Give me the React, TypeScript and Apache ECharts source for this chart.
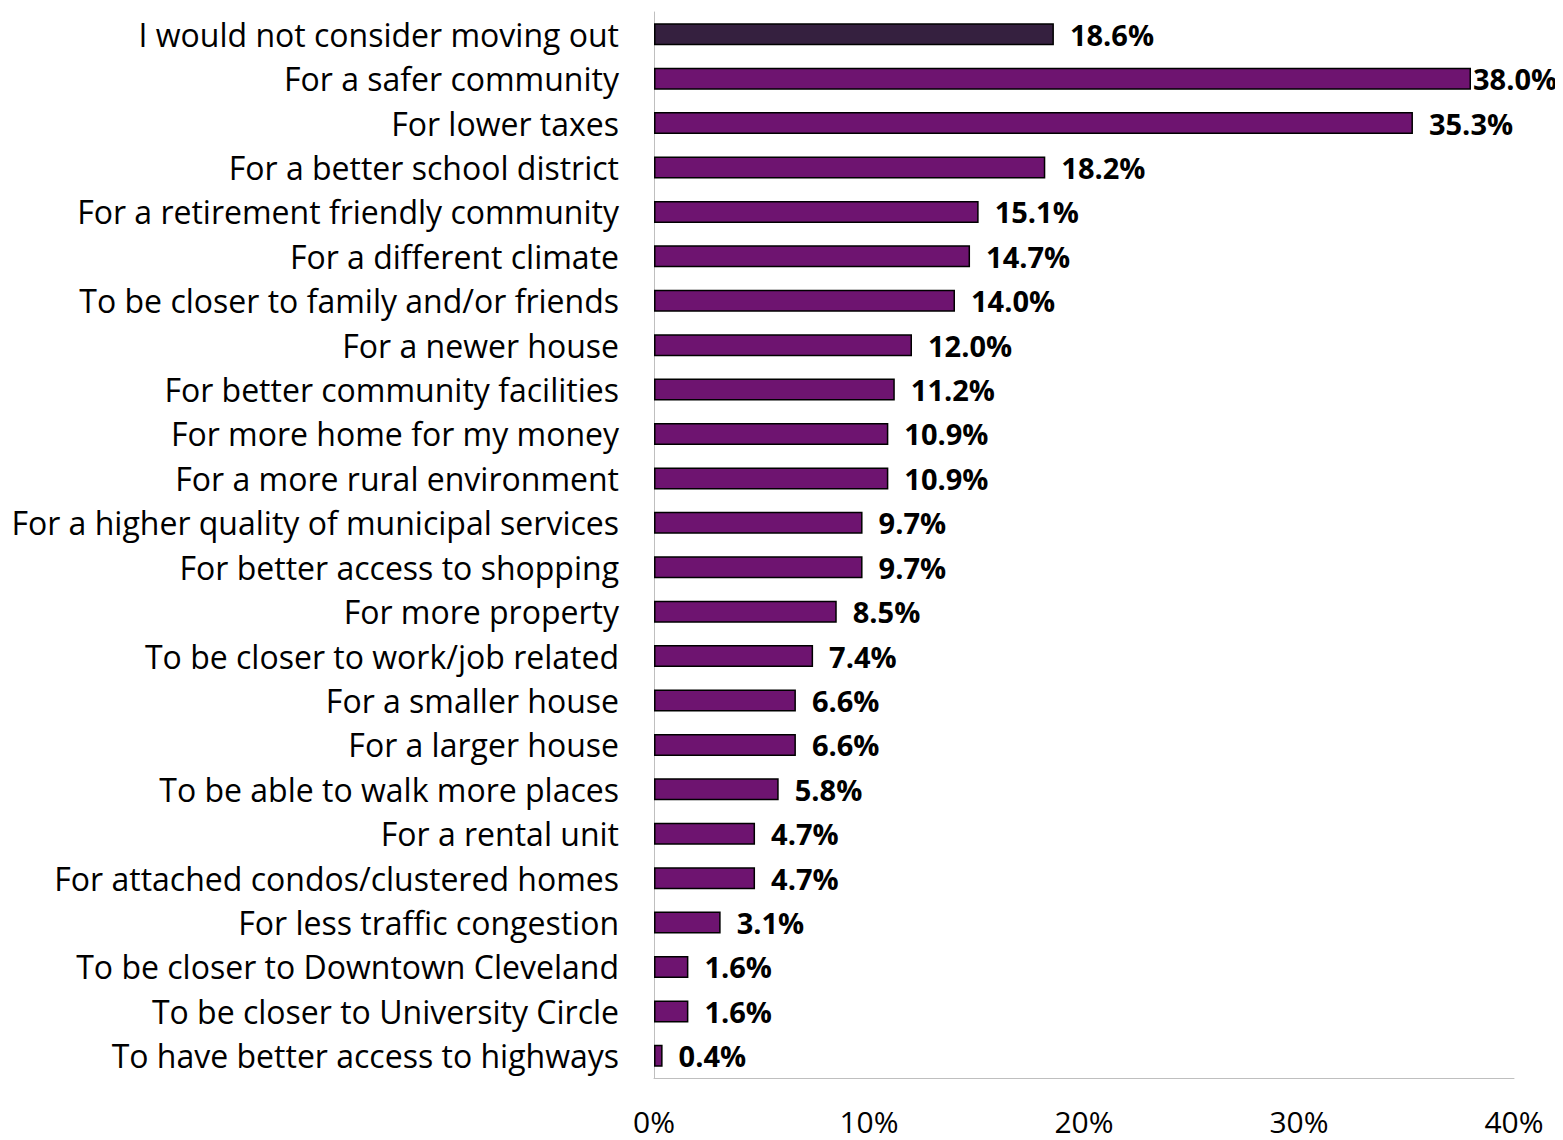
import React, { useEffect, useRef } from "react";
import * as echarts from "echarts";

const categories = [
  "I would not consider moving out",
  "For a safer community",
  "For lower taxes",
  "For a better school district",
  "For a retirement friendly community",
  "For a different climate",
  "To be closer to family and/or friends",
  "For a newer house",
  "For better community facilities",
  "For more home for my money",
  "For a more rural environment",
  "For a higher quality of municipal services",
  "For better access to shopping",
  "For more property",
  "To be closer to work/job related",
  "For a smaller house",
  "For a larger house",
  "To be able to walk more places",
  "For a rental unit",
  "For attached condos/clustered homes",
  "For less traffic congestion",
  "To be closer to Downtown Cleveland",
  "To be closer to University Circle",
  "To have better access to highways",
];

const values = [18.6, 38.0, 35.3, 18.2, 15.1, 14.7, 14.0, 12.0, 11.2, 10.9, 10.9, 9.7, 9.7, 8.5, 7.4, 6.6, 6.6, 5.8, 4.7, 4.7, 3.1, 1.6, 1.6, 0.4];

const xTicks = [0, 10, 20, 30, 40];

export default function App() {
  const ref = useRef<HTMLDivElement>(null);
  useEffect(() => {
    const chart = echarts.init(ref.current!, null, { renderer: "svg" });
    const font = "'Open Sans', sans-serif";
    chart.setOption({
      animation: false,
      grid: { left: 646, right: 49, top: 4, bottom: 62, containLabel: false },
      xAxis: {
        type: "value",
        min: xTicks[0],
        max: xTicks[xTicks.length - 1],
        interval: 10,
        axisLine: { show: true, lineStyle: { color: "#bfbfbf", width: 1 } },
        axisTick: { show: false },
        splitLine: { show: false },
        axisLabel: {
          formatter: (v: number) => v + "%",
          color: "#000",
          fontFamily: font,
          fontSize: 30,
          margin: 28,
        },
      },
      yAxis: {
        type: "category",
        data: categories,
        inverse: true,
        axisLine: { show: true, lineStyle: { color: "#bfbfbf", width: 1 } },
        axisTick: { show: false },
        axisLabel: {
          color: "#000",
          fontFamily: font,
          fontSize: 32,
          margin: 35,
        },
      },
      series: [
        {
          type: "bar",
          barWidth: 22,
          data: values.map((v, i) => ({
            value: v,
            itemStyle: { color: i === 0 ? "#35203F" : "#6E1470" },
            label: i === 1 ? { distance: 2 } : undefined,
          })),
          itemStyle: { borderColor: "#000", borderWidth: 1.5 },
          label: {
            show: true,
            position: "right",
            distance: 16,
            formatter: (p: any) => p.value.toFixed(1) + "%",
            color: "#000",
            fontFamily: font,
            fontWeight: "bold",
            fontSize: 29,
          },
        },
      ],
    });
    return () => chart.dispose();
  }, []);
  return <div ref={ref} style={{ width: 1555, height: 1132 }} />;
}
